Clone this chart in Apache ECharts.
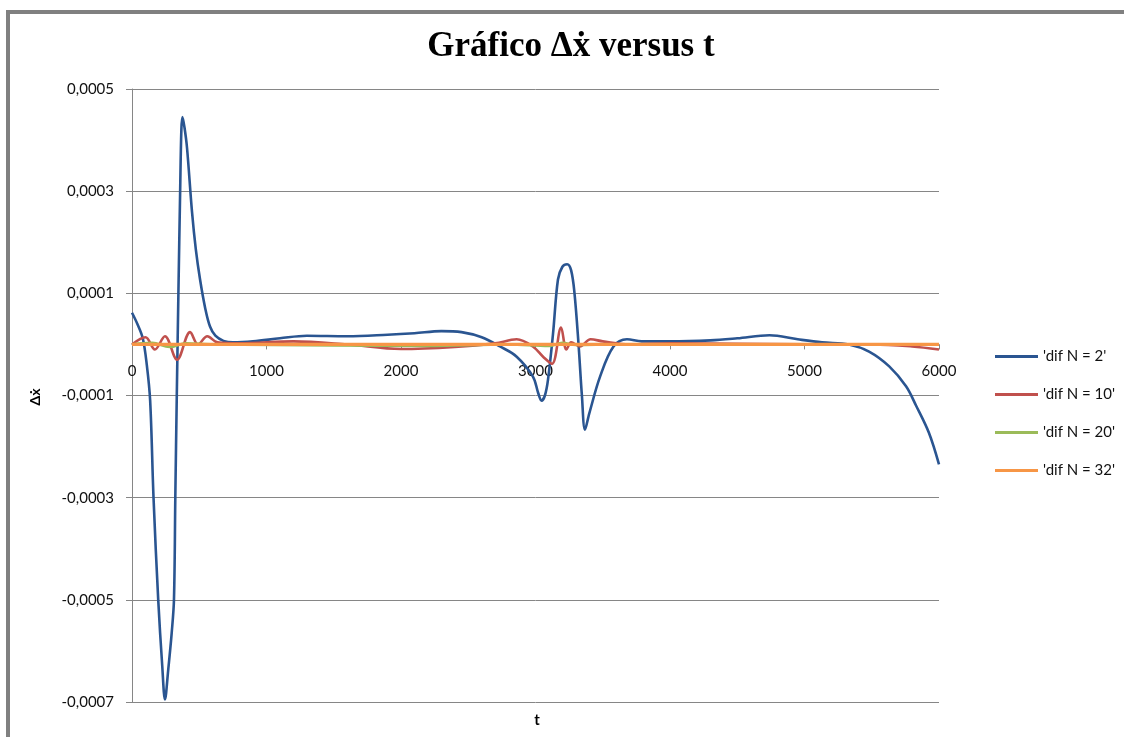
<!DOCTYPE html>
<html><head><meta charset="utf-8">
<script src="https://cdn.jsdelivr.net/npm/echarts@6/dist/echarts.min.js"></script>
<style>html,body{margin:0;padding:0;background:#fff}#c{width:1124px;height:737px}</style>
</head><body><div id="c"></div>
<script>
const chartTitle = 'Gráfico Δẋ versus t';
const xAxisName = 't';
const yAxisName = 'Δẋ';
const seriesNames = ["'dif N = 2'", "'dif N = 10'", "'dif N = 20'", "'dif N = 32'"];

const tN2 = [0, 40, 80, 110, 135, 160, 195, 225, 245, 270, 295, 312, 322, 333, 345, 358, 367, 375, 390, 409, 446, 475, 506, 545, 580, 620, 680, 750, 900, 1100, 1300, 1600, 1900, 2100, 2300, 2450, 2600, 2736, 2860, 2981, 3020, 3045, 3070, 3093, 3130, 3167, 3200, 3235, 3265, 3290, 3320, 3345, 3368, 3400, 3480, 3580, 3680, 3790, 4000, 4300, 4500, 4740, 4950, 5130, 5330, 5480, 5630, 5755, 5830, 5925, 6000];
const dxN2 = [6.2e-5, 4.0e-5, 1.2e-5, -4e-5, -1.1e-4, -3.0e-4, -5.0e-4, -6.3e-4, -6.95e-4, -6.35e-4, -5.65e-4, -5.0e-4, -3.0e-4, -1.0e-4, 1.0e-4, 3.0e-4, 4.2e-4, 4.45e-4, 4.25e-4, 3.85e-4, 2.6e-4, 1.85e-4, 1.27e-4, 7e-5, 3.5e-5, 1.7e-5, 7e-6, 4e-6, 6e-6, 1.2e-5, 1.7e-5, 1.6e-5, 1.9e-5, 2.2e-5, 2.6e-5, 2.4e-5, 1.4e-5, -4e-6, -2.4e-5, -6.3e-5, -9.5e-5, -1.1e-4, -1.0e-4, -6.9e-5, 2e-5, 1.27e-4, 1.52e-4, 1.57e-4, 1.45e-4, 1.0e-4, 0, -1.0e-4, -1.67e-4, -1.35e-4, -6.3e-5, -4e-6, 1e-5, 6e-6, 6e-6, 8e-6, 1.2e-5, 1.8e-5, 1e-5, 4e-6, 0, -1.4e-5, -4.3e-5, -8.2e-5, -1.2e-4, -1.73e-4, -2.35e-4];

const tN10 = [0, 100, 170, 245, 335, 432, 490, 560, 635, 800, 1200, 1600, 2000, 2400, 2700, 2860, 2980, 3060, 3123, 3190, 3230, 3265, 3330, 3410, 3500, 3700, 4000, 5000, 5500, 5800, 6000];
const dxN10 = [0, 1.4e-5, -1e-5, 1.6e-5, -3e-5, 2.4e-5, 0, 1.6e-5, 4e-6, 2e-6, 6e-6, 0, -9e-6, -5e-6, 2e-6, 1e-5, -4e-6, -2.5e-5, -3.8e-5, 3.3e-5, -1e-5, 4e-6, -4e-6, 1e-5, 6e-6, 0, 2e-6, 0, 0, -4e-6, -1e-5];

const tN20 = [0, 150, 280, 400, 600, 1500, 2200, 2800, 3100, 3200, 3300, 3600, 6000];
const dxN20 = [0, 3e-6, -5e-6, 2e-6, 0, -2e-6, -3e-6, 0, -3e-6, 3e-6, -1e-6, 0, 0];

const tN32 = [0, 1000, 2000, 3000, 4000, 5000, 6000];
const dxN32 = [0, 0, 0, 0, 0, 0, 0];

const colors = ['#2a5591', '#c0504d', '#9bbb59', '#f79646'];
const widths = [2.6, 2.6, 2.6, 3.2];

function pairs(t, v) { return t.map((x, i) => [x, v[i]]); }
const fmtY = v => v.toFixed(4).replace('.', ',');

const chart = echarts.init(document.getElementById('c'), null, {renderer: 'canvas'});
const labelFont = 'Lato, "Liberation Sans", sans-serif';
const mk = (i, t, v) => ({
  name: seriesNames[i], type: 'line', data: pairs(t, v), smooth: 0.35,
  symbol: 'none', lineStyle: {width: widths[i], color: colors[i]}, itemStyle: {color: colors[i]},
  z: 2 + i
});
chart.setOption({
  animation: false,
  backgroundColor: '#fff',
  title: {
    text: chartTitle, left: 566, top: 24, textAlign: 'center',
    textStyle: {fontFamily: '"Liberation Serif", serif', fontWeight: 'bold', fontSize: 35, color: '#000'}
  },
  grid: {left: 132, top: 89, right: 185, bottom: 35, containLabel: false},
  legend: {
    orient: 'vertical', left: 990, top: 344, itemWidth: 43, itemHeight: 3, itemGap: 23,
    icon: 'rect',
    textStyle: {fontFamily: labelFont, fontSize: 15, color: '#111'},
    data: seriesNames
  },
  xAxis: {
    type: 'value', min: 0, max: 6000, interval: 1000,
    axisLine: {onZero: false, lineStyle: {color: '#868686', width: 1}},
    axisTick: {show: true, length: 5, lineStyle: {color: '#868686'}},
    axisLabel: {margin: 19, fontFamily: labelFont, fontSize: 15, color: '#111', formatter: v => String(v)},
    splitLine: {show: false}
  },
  yAxis: {
    type: 'value', min: -0.0007, max: 0.0005, interval: 0.0002,
    axisLine: {show: true, lineStyle: {color: '#868686', width: 1}},
    axisTick: {show: true, length: 6, lineStyle: {color: '#868686'}},
    axisLabel: {margin: 18, fontFamily: labelFont, fontSize: 15, color: '#111', formatter: fmtY},
    splitLine: {show: true, lineStyle: {color: '#868686', width: 1}}
  },
  graphic: [
    {type: 'rect', left: 6, top: 10, shape: {width: 1118, height: 4}, style: {fill: '#808080'}, silent: true},
    {type: 'rect', left: 6, top: 10, shape: {width: 4, height: 727}, style: {fill: '#808080'}, silent: true},
    {type: 'text', x: 35, y: 397, rotation: Math.PI / 2,
      style: {text: yAxisName, font: 'bold 14px Lato, "Liberation Sans", sans-serif', fill: '#000', align: 'center', verticalAlign: 'middle'}},
    {type: 'text', x: 537, y: 720,
      style: {text: xAxisName, font: 'bold 15px Lato, "Liberation Sans", sans-serif', fill: '#000', align: 'center', verticalAlign: 'middle'}}
  ],
  series: [mk(0, tN2, dxN2), mk(1, tN10, dxN10), mk(2, tN20, dxN20), mk(3, tN32, dxN32)]
});
// Move the horizontal axis (line, ticks, labels) to y = 0, as in the reference
const zeroY = chart.convertToPixel({yAxisIndex: 0}, 0);
const minY = chart.convertToPixel({yAxisIndex: 0}, -0.0007);
chart.setOption({xAxis: {offset: zeroY - minY}});
</script>
</body></html>
